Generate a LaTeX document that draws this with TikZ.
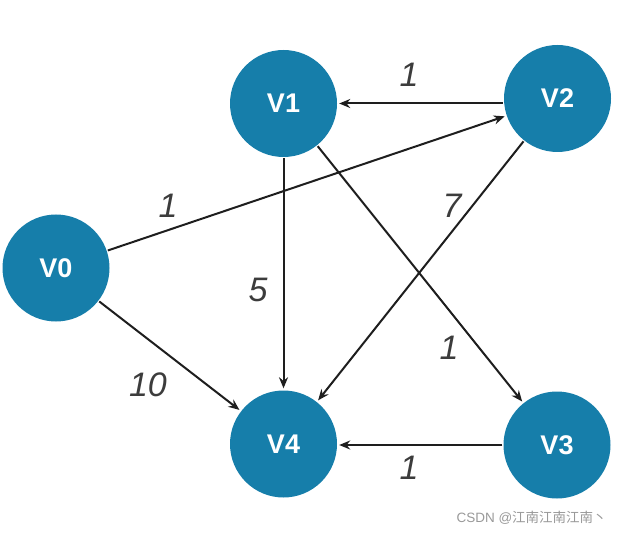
\documentclass[tikz,border=0pt]{standalone}
\usepackage{fontspec}
\setmainfont{Liberation Sans}
\newfontfamily\cjkfont{Noto Sans CJK SC}
\usetikzlibrary{arrows.meta}
\definecolor{nodeblue}{RGB}{22,126,170}
\definecolor{edgecol}{RGB}{30,30,30}
\definecolor{labcol}{RGB}{60,60,60}
\tikzset{
  vert/.style={circle, fill=nodeblue, minimum size=107pt, inner sep=0pt, text=white, font=\fontsize{27}{27}\selectfont\bfseries},
  edge/.style={draw=edgecol, line width=2pt, -{Stealth[length=11pt,width=9pt]}, shorten >=2pt, shorten <=1pt},
  wlab/.style={text=labcol, font=\fontsize{34}{34}\selectfont\itshape}
}
\begin{document}
\begin{tikzpicture}[x=1pt,y=-1pt]
\useasboundingbox (0,0) rectangle (623,534);
\node[vert] (v1) at (283.5,103.5) {V1};
\node[vert] (v2) at (557.5,98.5) {V2};
\node[vert] (v0) at (56,268) {V0};
\node[vert] (v4) at (283.5,444) {V4};
\node[vert] (v3) at (557,445) {V3};
\draw[edge] (v2.west |- v1.east) -- (v1.east);
\draw[edge] (v0) -- (v2);
\draw[edge] (v1) -- (v4);
\draw[edge] (v0) -- (v4);
\draw[edge] (v1) -- (v3);
\draw[edge] (v2) -- (v4);
\draw[edge] (v3.west) -- (v4.east |- v3.west);
\node[wlab] (l12) at (409,75) {1};
\node[wlab] (l02) at (168,206) {1};
\node[wlab] (l14) at (258,290) {5};
\node[wlab] (l04) at (148,385) {10};
\node[wlab] (l24) at (452,206) {7};
\node[wlab] (l13) at (449,348) {1};
\node[wlab] (l34) at (409,468) {1};
\node[text=gray!80, font=\fontsize{13.5}{14}\selectfont, anchor=west] (wm) at (453,518) {CSDN @{\cjkfont 江南江南江南丶}};
\end{tikzpicture}
\end{document}
